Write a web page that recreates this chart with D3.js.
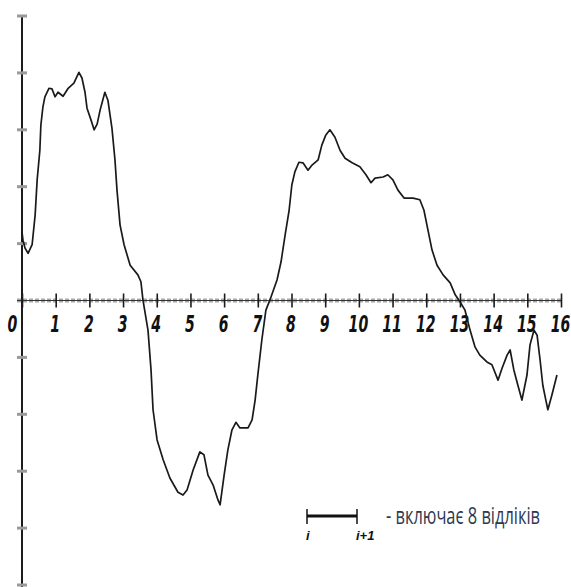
<!DOCTYPE html>
<html>
<head>
<meta charset="utf-8">
<script src="https://cdn.jsdelivr.net/npm/d3@7"></script>
<style>
  body { margin: 0; background: #fff; }
  svg { display: block; }
</style>
</head>
<body>
<svg id="chart" width="571" height="587"></svg>
<script>
// values (x in intervals, y in grid units)
const xTicks = d3.range(0, 17);
const yTicks = [-5, -4, -3, -2, -1, 1, 2, 3, 4, 5];

const curveX = [
  0.00, 0.03, 0.09, 0.18, 0.30, 0.39, 0.45, 0.53, 0.56, 0.62, 0.68, 0.80, 0.89, 0.98, 1.07, 1.22,
  1.37, 1.54, 1.69, 1.78, 1.87, 1.93, 2.05, 2.14, 2.23, 2.32, 2.46, 2.55, 2.67, 2.76, 2.82, 2.91,
  3.03, 3.21, 3.44, 3.53, 3.59,
  3.74, 3.83, 3.89, 4.01, 4.19, 4.39, 4.63, 4.78, 4.90, 5.08, 5.28, 5.40, 5.52, 5.67, 5.82, 5.88,
  6.00, 6.11, 6.23, 6.35, 6.47, 6.71, 6.83, 6.92, 7.00, 7.12, 7.24, 7.36,
  7.57, 7.69, 7.81, 7.93, 8.01, 8.10, 8.22, 8.34, 8.49, 8.61, 8.79, 8.90, 9.02, 9.14, 9.29, 9.44,
  9.59, 9.80, 10.03, 10.21, 10.36, 10.48, 10.72, 10.86, 11.01, 11.16, 11.34, 11.61, 11.81, 11.93,
  12.05, 12.17, 12.32, 12.50, 12.71, 12.86, 13.01, 13.15, 13.30, 13.45, 13.59, 13.80, 13.95, 14.13,
  14.25, 14.40, 14.49, 14.60, 14.72, 14.84, 14.99, 15.08, 15.20, 15.29, 15.38, 15.46, 15.55, 15.61,
  15.73, 15.88
];
const curveY = [
  1.20, 1.06, 0.92, 0.83, 0.98, 1.50, 2.12, 2.64, 3.08, 3.40, 3.58, 3.73, 3.72, 3.58, 3.66, 3.59,
  3.73, 3.82, 4.01, 3.91, 3.66, 3.38, 3.17, 3.00, 3.10, 3.35, 3.66, 3.52, 3.03, 2.47, 1.94, 1.33,
  0.98, 0.62, 0.45, 0.33, 0.01,
  -0.52, -1.22, -1.92, -2.45, -2.80, -3.12, -3.37, -3.42, -3.33, -2.98, -2.66, -2.71, -3.07, -3.24, -3.51, -3.59,
  -3.07, -2.63, -2.28, -2.14, -2.24, -2.24, -2.10, -1.75, -1.31, -0.69, -0.17, 0.01,
  0.36, 0.68, 1.15, 1.59, 2.03, 2.26, 2.43, 2.42, 2.29, 2.38, 2.47, 2.73, 2.91, 3.00, 2.87, 2.64,
  2.50, 2.42, 2.35, 2.21, 2.07, 2.15, 2.17, 2.21, 2.12, 1.94, 1.80, 1.80, 1.77, 1.59,
  1.24, 0.89, 0.62, 0.45, 0.31, 0.10, -0.03, -0.17, -0.52, -0.82, -0.96, -1.08, -1.13, -1.40,
  -1.19, -0.96, -0.87, -1.22, -1.49, -1.75, -1.31, -0.78, -0.52, -0.61, -1.05, -1.49, -1.75, -1.92,
  -1.66, -1.31
];

const legendText = "- включає 8 відліків";

const svg = d3.select("#chart");

const x = d3.scaleLinear().domain([0, 16]).range([22, 561]);
const y = d3.scaleLinear().domain([-5, 5]).range([585, 16]);

// vertical axis
svg.append("line")
  .attr("x1", x(0)).attr("x2", x(0))
  .attr("y1", 15).attr("y2", 587)
  .attr("stroke", "#1c1c1c").attr("stroke-width", 2);

svg.append("g")
  .selectAll("line")
  .data(yTicks)
  .enter()
  .append("line")
  .attr("x1", x(0) - 5).attr("x2", x(0) + 5)
  .attr("y1", d => y(d)).attr("y2", d => y(d))
  .attr("stroke", "#9a9a9a").attr("stroke-width", 3);

// horizontal axis, drawn like the grainy scan
svg.append("line")
  .attr("x1", 17).attr("x2", x(16))
  .attr("y1", y(0)).attr("y2", y(0))
  .attr("stroke", "#a8a8a8").attr("stroke-width", 4)
  .attr("stroke-dasharray", "4,2");
svg.append("line")
  .attr("x1", 17).attr("x2", x(16))
  .attr("y1", y(0)).attr("y2", y(0))
  .attr("stroke", "#333").attr("stroke-width", 1.2);

const xAxis = svg.append("g")
  .attr("transform", "translate(0," + y(0) + ")")
  .call(d3.axisBottom(x).tickValues(xTicks).tickSize(7).tickFormat(d3.format("d")));

xAxis.select(".domain").remove();
xAxis.selectAll(".tick line")
  .attr("y1", -7).attr("y2", 7)
  .attr("stroke", "#1c1c1c").attr("stroke-width", 1.6);
xAxis.selectAll(".tick text")
  .attr("y", 0).attr("dy", 0)
  .attr("transform", d => "translate(" + (d === 0 ? -10 : -1) + ",31) scale(0.68,1)")
  .attr("fill", "#111")
  .style("font-family", "'Liberation Sans Narrow', 'DejaVu Sans Condensed', sans-serif")
  .style("font-size", "23px")
  .style("font-weight", "bold")
  .style("font-style", "italic");

// the signal
const line = d3.line()
  .x((d, i) => x(curveX[i]))
  .y(d => y(d));

svg.append("path")
  .datum(curveY)
  .attr("d", line)
  .attr("fill", "none")
  .attr("stroke", "#1a1a1a")
  .attr("stroke-width", 1.7)
  .attr("stroke-linejoin", "round");

// legend: one interval
const lg = svg.append("g");
lg.append("line")
  .attr("x1", 307).attr("x2", 357).attr("y1", 516).attr("y2", 516)
  .attr("stroke", "#111").attr("stroke-width", 3);
lg.selectAll(".end")
  .data([307, 357])
  .enter()
  .append("line")
  .attr("x1", d => d).attr("x2", d => d)
  .attr("y1", 509).attr("y2", 524)
  .attr("stroke", "#111").attr("stroke-width", 1.5);
lg.append("text")
  .attr("x", 306).attr("y", 540)
  .attr("fill", "#111")
  .style("font-family", "'Liberation Sans Narrow', sans-serif")
  .style("font-size", "13px").style("font-weight", "bold").style("font-style", "italic")
  .text("i");
lg.append("text")
  .attr("x", 356).attr("y", 540)
  .attr("fill", "#111")
  .style("font-family", "'Liberation Sans Narrow', sans-serif")
  .style("font-size", "13px").style("font-weight", "bold").style("font-style", "italic")
  .text("i+1");

// squeeze the caption to the scanned width instead of using textLength
const cap = lg.append("g").attr("transform", "translate(386,524)");
const capText = cap.append("text")
  .attr("x", 0).attr("y", 0)
  .attr("fill", "#2e3850")
  .style("font-family", "'Liberation Sans Narrow', 'Open Sans', sans-serif")
  .style("font-size", "23px")
  .text(legendText);
const capW = capText.node().getComputedTextLength();
cap.attr("transform", "translate(386,524) scale(" + Math.min(1, 154 / capW) + ",1)");
</script>
</body>
</html>
